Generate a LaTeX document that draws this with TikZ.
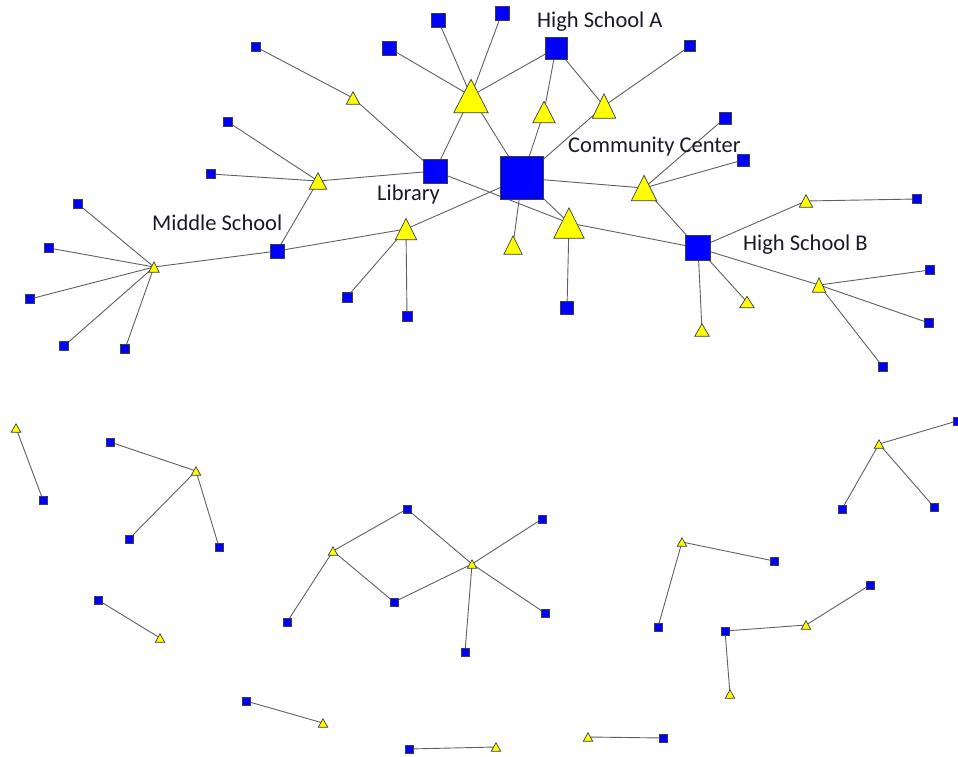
\documentclass[tikz,border=0pt]{standalone}
\usepackage{fontspec}
\setmainfont{Carlito}
\pgfdeclarelayer{bg}
\pgfsetlayers{bg,main}
\definecolor{sqblue}{RGB}{0,0,255}
\definecolor{triyel}{RGB}{255,255,0}
\definecolor{outl}{RGB}{60,60,70}
\definecolor{edgec}{RGB}{95,95,95}
\definecolor{labc}{RGB}{25,25,40}
\tikzset{
  sq/.style={rectangle, draw=outl, fill=sqblue, line width=0.7pt, inner sep=0pt, minimum size=#1},
  tri/.style 2 args={rectangle, inner sep=0pt, minimum width=#1, minimum height=#2,
    append after command={\pgfextra{\begin{pgfinterruptpath}
      \path[draw=outl, fill=triyel, line width=0.7pt, line join=miter]
        (\tikzlastnode.south west) -- (\tikzlastnode.south east) -- (\tikzlastnode.north) -- cycle;
      \end{pgfinterruptpath}}}},
  lbl/.style={anchor=base west, inner sep=0pt, text=labc, font=\fontsize{22.5}{26}\selectfont},
  edge/.style={draw=edgec, line width=0.9pt}
}
\begin{document}
\begin{tikzpicture}[x=1pt,y=-1pt]
\useasboundingbox (0,0) rectangle (958,757);
% ---- top cluster squares
\node[sq=43] (cc) at (522,178) {};
\node[sq=22] (hsa) at (556,48) {};
\node[sq=24] (lib) at (435,171) {};
\node[sq=25] (hsb) at (698,248) {};
\node[sq=14] (ms) at (277,251) {};
\node[sq=14] (a1) at (438,20) {};
\node[sq=14] (a2) at (502,13) {};
\node[sq=14] (a3) at (389,48) {};
\node[sq=9] (a4) at (256,47) {};
\node[sq=9] (a5) at (228,122) {};
\node[sq=9] (a6) at (211,174) {};
\node[sq=11] (a7) at (690,46) {};
\node[sq=12] (a8) at (725,118) {};
\node[sq=12] (a9) at (743,160) {};
\node[sq=9] (a10) at (917,199) {};
\node[sq=9] (a11) at (930,270) {};
\node[sq=9] (a12) at (929,323) {};
\node[sq=9] (a13) at (883,367) {};
\node[sq=9] (m1) at (78,204) {};
\node[sq=9] (m2) at (49,248) {};
\node[sq=9] (m3) at (30,299) {};
\node[sq=9] (m4) at (64,346) {};
\node[sq=9] (m5) at (125,349) {};
\node[sq=10] (b1) at (347,297) {};
\node[sq=10] (b2) at (407,316) {};
\node[sq=13] (b3) at (567,308) {};
% ---- top cluster triangles
\node[tri={34}{33}] (t1) at (471,96) {};
\node[tri={22}{21}] (t2) at (544,112) {};
\node[tri={23}{24}] (t3) at (604,106) {};
\node[tri={25}{25}] (t4) at (644,188) {};
\node[tri={30}{30}] (t5) at (569,223) {};
\node[tri={18}{18}] (t6) at (513,245) {};
\node[tri={21}{21}] (t7) at (406,229) {};
\node[tri={13}{12}] (t8) at (353,98) {};
\node[tri={17}{16}] (t9) at (318,181) {};
\node[tri={13}{12}] (t10) at (806,201) {};
\node[tri={13}{14}] (t11) at (819,285) {};
\node[tri={14}{11}] (t12) at (747,302) {};
\node[tri={14}{12}] (t13) at (702,330) {};
\node[tri={10}{10}] (t14) at (154,267) {};
% ---- bottom components
\node[tri={9}{8}] (tA) at (16,428) {};
\node[sq=8] (sA) at (43,500) {};
\node[tri={9}{8}] (tB) at (196,471) {};
\node[sq=8] (sB1) at (110,442) {};
\node[sq=8] (sB2) at (129,539) {};
\node[sq=8] (sB3) at (219,547) {};
\node[sq=8] (sC) at (98,600) {};
\node[tri={9}{8}] (tC) at (160,638) {};
\node[sq=8] (sD) at (246,701) {};
\node[tri={9}{8}] (tD) at (323,723) {};
\node[tri={9}{8}] (tE1) at (333,551) {};
\node[sq=8] (sE1) at (407,509) {};
\node[sq=8] (sE2) at (287,622) {};
\node[sq=8] (sE3) at (394,602) {};
\node[tri={9}{8}] (tE2) at (472,564) {};
\node[sq=8] (sE4) at (542,519) {};
\node[sq=8] (sE5) at (545,613) {};
\node[sq=8] (sE6) at (465,652) {};
\node[sq=8] (sF) at (409,749) {};
\node[tri={9}{8}] (tF) at (496,747) {};
\node[tri={9}{8}] (tG) at (879,444) {};
\node[sq=8] (sG1) at (957,421) {};
\node[sq=8] (sG2) at (842,509) {};
\node[sq=8] (sG3) at (934,507) {};
\node[tri={9}{8}] (tH) at (682,542) {};
\node[sq=8] (sH1) at (774,561) {};
\node[sq=8] (sH2) at (658,627) {};
\node[sq=8] (sI1) at (725,631) {};
\node[tri={9}{8}] (tI1) at (806,625) {};
\node[sq=8] (sI2) at (870,585) {};
\node[tri={9}{8}] (tI2) at (730,694) {};
\node[tri={9}{8}] (tJ) at (588,737) {};
\node[sq=8] (sJ) at (663,738) {};
% ---- labels
\node[lbl] (lhsa) at (537,28) {High School A};
\node[lbl] (lcc) at (568,153) {Community Center};
\node[lbl] (llib) at (377,200) {Library};
\node[lbl] (lms) at (152,230) {Middle School};
\node[lbl] (lhsb) at (743,250) {High School B};
% ---- edges
\begin{pgfonlayer}{bg}
\foreach \u/\v in {t1/a1,t1/a2,t1/a3,t1/hsa,t1/lib,t1/cc,
  hsa/t2,hsa/t3,t2/cc,t3/cc,t3/a7,
  cc/t4,t4/a8,t4/a9,t4/hsb,
  cc/t5,t5/b3,t5/hsb,lib/t5,
  cc/t6,cc/t7,t7/ms,t7/b1,t7/b2,
  lib/t8,t8/a4,lib/t9,t9/a5,t9/a6,t9/ms,
  ms/t14,t14/m1,t14/m2,t14/m3,t14/m4,t14/m5,
  hsb/t10,t10/a10,hsb/t11,t11/a11,t11/a12,t11/a13,hsb/t12,hsb/t13,
  tA/sA,tB/sB1,tB/sB2,tB/sB3,sC/tC,sD/tD,
  tE1/sE1,tE1/sE2,tE1/sE3,sE1/tE2,sE3/tE2,tE2/sE4,tE2/sE5,tE2/sE6,
  sF/tF,tG/sG1,tG/sG2,tG/sG3,tH/sH1,tH/sH2,
  sI1/tI1,tI1/sI2,sI1/tI2,tJ/sJ}
  \draw[edge] (\u.center) -- (\v.center);
\end{pgfonlayer}
\end{tikzpicture}
\end{document}
